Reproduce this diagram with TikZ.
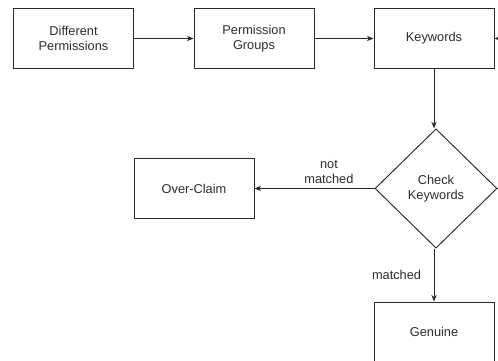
\documentclass[tikz,border=0pt]{standalone}
\usepackage{fontspec}
\setmainfont{Liberation Sans}
\usepackage{tikz}
\usetikzlibrary{positioning,shapes.geometric,arrows.meta}
\definecolor{LineGray}{RGB}{40,40,40}
\definecolor{TextGray}{RGB}{45,45,45}

\begin{document}
\begin{tikzpicture}[
		x=0.75pt, y=-0.75pt,
		box/.style={draw=LineGray, line width=0.7pt, fill=white, minimum width=90pt, minimum height=45pt, align=center, font=\fontsize{9.6pt}{11.5pt}\selectfont, text=TextGray},
		check/.style={draw=LineGray, line width=0.7pt, diamond, minimum width=91.5pt, minimum height=89.5pt, inner sep=0pt, align=center, font=\fontsize{9.6pt}{11.5pt}\selectfont, text=TextGray},
		link/.style={draw=LineGray, line width=0.7pt, -{Stealth[length=5pt,width=4pt]}},
		lbl/.style={font=\fontsize{9.6pt}{11.5pt}\selectfont, align=center, text=TextGray}
		]
		
		% ===== frame =====
		\useasboundingbox (0,0) rectangle (498,360);
		\clip (0,0) rectangle (498,360);
		
		% ===== top row =====
		\node[box] (diff) at (73.5,38.5) {Different\\Permissions};
		\node[box] (groups) at (254,38.5) {Permission\\Groups};
		\node[box] (kw) at (434,38.5) {Keywords};
		
		% ===== decision and outcomes =====
		\node[check] (chk) at (436,188.5) {Check\\Keywords};
		\node[box] (over) at (194,188.5) {Over-Claim};
		\node[box] (gen) at (434,332) {Genuine};
		
		\draw[link] (diff) -- (groups);
		\draw[link] (groups) -- (kw);
		\draw[link] (kw.south -| 434,0) -- (chk.north -| 434,0);
		\draw[link] (chk) -- node[lbl, above, pos=0.38] {not\\matched} (over);
		\draw[link] (chk.south -| 434,0) -- node[lbl, pos=0.5, left=6pt] {matched} (gen.north -| 434,0);
		
		% ===== loop back (runs off the right edge) =====
		\draw[link] (chk.east) -- ++(25,0) |- (kw.east);
		
	\end{tikzpicture}
\end{document}
